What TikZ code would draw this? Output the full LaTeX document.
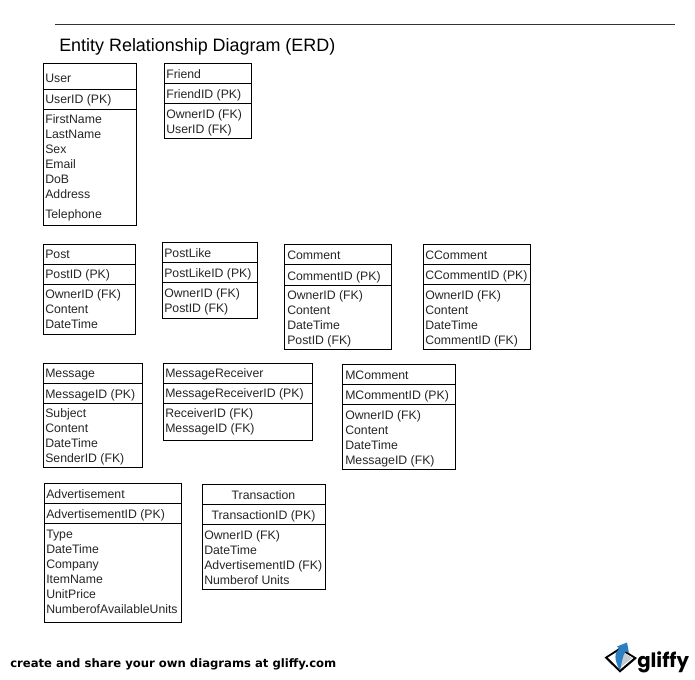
\documentclass[tikz,border=0pt]{standalone}
\usepackage{fontspec}
\setmainfont{Liberation Sans}
\newfontfamily\footfont{DejaVu Sans}
\newfontfamily\logofont{Poppins}
\usepackage{tikz}
\definecolor{gliffyblue}{HTML}{2C7FC0}
\definecolor{gliffygrey}{HTML}{C4CBD0}
\tikzset{
  erdline/.style={draw=black,line width=0.75pt,xshift=0.375pt,yshift=-0.375pt},
  erdtext/.style={anchor=base west,inner sep=0pt,yshift=-0.4pt,font=\fontsize{9.2}{10}\selectfont,text=black!85},
  erdmid/.style={anchor=base,inner sep=0pt,yshift=-0.4pt,font=\fontsize{9.2}{10}\selectfont,text=black!85}
}
% box: x1, y1, x2, y2, first divider, second divider
\newcommand{\erdbox}[6]{
  \draw[erdline] (#1,#2) rectangle (#3,#4);
  \draw[erdline] (#1,#5) -- (#3,#5);
  \draw[erdline] (#1,#6) -- (#3,#6);
}
\begin{document}
\begin{tikzpicture}[x=0.75pt,y=-0.75pt]
\useasboundingbox (0,0) rectangle (695,679);
\fill[white] (0,0) rectangle (695,679);

\draw[line width=0.6pt,black!80] (55,24.5) -- (675,24.5);
\node[anchor=base west,inner sep=0pt,font=\fontsize{13.45}{15}\selectfont] (title) at (59,51) {Entity Relationship Diagram (ERD)};

% User
\erdbox{43}{63}{136}{225}{89}{109}
\foreach \y/\t [count=\i] in {81.5/User,102.5/UserID (PK),122.5/FirstName,137.5/LastName,152.5/Sex,167.5/Email,182.5/DoB,197.5/Address,217.5/Telephone}
  \node[erdtext] (user\i) at (45,\y) {\t};

% Friend
\erdbox{164}{63}{251}{138}{83}{103}
\foreach \y/\t [count=\i] in {77.5/Friend,97.5/FriendID (PK),117.5/OwnerID (FK),132.5/UserID (FK)}
  \node[erdtext] (friend\i) at (166,\y) {\t};

% Post
\erdbox{43}{244}{135}{334}{264}{284}
\foreach \y/\t [count=\i] in {257.5/Post,277.5/PostID (PK),297.5/OwnerID (FK),312.5/Content,327.5/DateTime}
  \node[erdtext] (post\i) at (45,\y) {\t};

% PostLike
\erdbox{162}{242}{257}{318}{262}{282}
\foreach \y/\t [count=\i] in {256.5/PostLike,276.5/PostLikeID (PK),296.5/OwnerID (FK),311.5/PostID (FK)}
  \node[erdtext] (postlike\i) at (164,\y) {\t};

% Comment
\erdbox{284}{244}{391}{349}{264}{285}
\foreach \y/\t [count=\i] in {258.5/Comment,279.5/CommentID (PK),298.5/OwnerID (FK),313.5/Content,328.5/DateTime,343.5/PostID (FK)}
  \node[erdtext] (comment\i) at (287,\y) {\t};

% CComment
\erdbox{423}{244}{530}{349}{264}{284}
\foreach \y/\t [count=\i] in {258.5/CComment,278.5/CCommentID (PK),298.5/OwnerID (FK),313.5/Content,328.5/DateTime,343.5/CommentID (FK)}
  \node[erdtext] (ccomment\i) at (425,\y) {\t};

% Message
\erdbox{43}{363}{142}{467}{383}{403}
\foreach \y/\t [count=\i] in {376.5/Message,397.5/MessageID (PK),416.5/Subject,431.5/Content,446.5/DateTime,461.5/SenderID (FK)}
  \node[erdtext] (message\i) at (45,\y) {\t};

% MessageReceiver
\erdbox{163}{363}{312}{440}{383}{403}
\foreach \y/\t [count=\i] in {376.5/MessageReceiver,396.5/MessageReceiverID (PK),416.5/ReceiverID (FK),431.5/MessageID (FK)}
  \node[erdtext] (receiver\i) at (165,\y) {\t};

% MComment
\erdbox{342}{364}{455}{469}{384}{404}
\foreach \y/\t [count=\i] in {378.5/MComment,398.5/MCommentID (PK),418.5/OwnerID (FK),433.5/Content,448.5/DateTime,463.5/MessageID (FK)}
  \node[erdtext] (mcomment\i) at (345,\y) {\t};

% Advertisement
\erdbox{44}{483}{181}{622}{503}{523}
\foreach \y/\t [count=\i] in {497.5/Advertisement,517.5/AdvertisementID (PK),537.5/Type,552.5/DateTime,567.5/Company,582.5/ItemName,597.5/UnitPrice,612.5/NumberofAvailableUnits}
  \node[erdtext] (advert\i) at (46,\y) {\t};

% Transaction
\erdbox{202}{484}{325}{589}{504}{524}
\node[erdmid] (trans1) at (263.5,498.5) {Transaction};
\node[erdmid] (trans2) at (263.5,518.5) {TransactionID (PK)};
\foreach \y/\t [count=\i from 3] in {538.5/OwnerID (FK),553.5/DateTime,568.5/AdvertisementID (FK),583.5/Numberof Units}
  \node[erdtext] (trans\i) at (204,\y) {\t};

% footer
\node[anchor=base west,inner sep=0pt,font=\footfont\bfseries\fontsize{8.72}{10}\selectfont] (footer) at (10,667) {create and share your own diagrams at gliffy.com};

% logo
\fill[black] (604.5,657.5) -- (620,647.5) -- (637,658) -- (620,672.5) -- cycle;
\fill[white] (608,657.5) -- (620,650) -- (633.5,658) -- (620,669.5) -- cycle;
\fill[gliffygrey] (623,652) -- (632,658) -- (621,667) -- cycle;
\fill[gliffyblue] (620,670.5) .. controls (614,660) and (614,652) .. (619.5,648.5) -- (617,646.5) -- (627,642.5) -- (629,653) -- (626,651) .. controls (622,656) and (622,663) .. (620,670.5) -- cycle;
\node[anchor=base west,inner sep=0pt,font=\logofont\bfseries\fontsize{14.8}{18}\selectfont] (logo) at (637,667) {gliffy};
\end{tikzpicture}
\end{document}
